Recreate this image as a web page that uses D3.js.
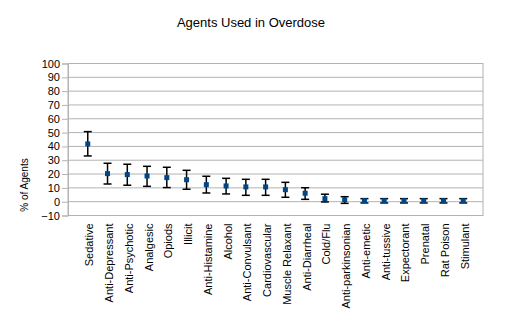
<!DOCTYPE html>
<html>
<head>
<meta charset="utf-8">
<script src="https://cdn.jsdelivr.net/npm/d3@7"></script>
<style>
  body { margin: 0; background: #fff; }
  text { font-family: "Liberation Sans", Arial, sans-serif; }
</style>
</head>
<body>
<div id="vis"></div>
<script>
// data
var agents = ['Sedative', 'Anti-Depressant', 'Anti-Psychotic', 'Analgesic', 'Opiods', 'Illicit',
    'Anti-Histamine', 'Alcohol', 'Anti-Convulsant', 'Cardiovascular', 'Muscle Relaxant',
    'Anti-Diarrheal', 'Cold/Flu', 'Anti-parkinsonian', 'Anti-emetic', 'Anti-tussive',
    'Expectorant', 'Prenatal', 'Rat Poison', 'Stimulant'];
var pct = [41.8, 20.3, 19.6, 18.6, 17.4, 15.9, 12.3, 11.4, 10.7, 10.7, 8.7, 6.1, 2.2, 1.4, 0.7, 0.7, 0.7, 0.7, 0.7, 0.7];
var errHigh = [50.7, 27.8, 27.1, 25.6, 24.9, 22.7, 18.4, 16.9, 16.2, 16.2, 14.0, 10.1, 5.4, 3.6, 2.2, 2.2, 2.2, 2.2, 2.2, 2.2];
var errLow = [33.1, 12.8, 11.9, 11.1, 10.2, 9.0, 6.3, 5.6, 4.6, 4.6, 3.2, 1.7, -0.2, -1.2, -0.9, -0.9, -0.9, -0.9, -0.9, -0.9];
var yTicks = [-10, 0, 10, 20, 30, 40, 50, 60, 70, 80, 90, 100];

var margin = { left: 68, top: 63.5, right: 22, bottom: 120.5 };
var W = 505, H = 336;
var width = W - margin.left - margin.right;
var height = H - margin.top - margin.bottom;

var svg = d3.select('#vis').append('svg')
    .attr('width', W)
    .attr('height', H);

var g = svg.append('g')
    .attr('transform', 'translate(' + margin.left + ',' + margin.top + ')');

// points sit one step in from each side of the plot
var xScale = d3.scalePoint().domain(agents).range([0, width]).padding(1);
var yScale = d3.scaleLinear().domain([-10, 100]).range([height, 0]);

/* gridlines */
g.selectAll('.grid').data(yTicks).enter()
    .append('line')
    .attr('x1', 0).attr('x2', width)
    .attr('y1', function (d) { return yScale(d); })
    .attr('y2', function (d) { return yScale(d); })
    .attr('stroke', '#b3b3b3')
    .attr('stroke-width', 1);

/* plot border */
g.append('rect')
    .attr('width', width).attr('height', height)
    .attr('fill', 'none')
    .attr('stroke', '#b3b3b3');

/* y axis */
var yAxis = d3.axisLeft(yScale).tickValues(yTicks).tickSize(6).tickPadding(2);
var ya = g.append('g').call(yAxis);
ya.select('.domain').attr('stroke', '#b3b3b3');
ya.selectAll('.tick line').attr('stroke', '#b3b3b3');
ya.selectAll('.tick text').attr('font-size', 11).attr('fill', '#000')
    .style('font-family', '"Liberation Sans", Arial, sans-serif');

/* x axis labels */
var xAxis = d3.axisBottom(xScale).tickSize(0).tickPadding(0);
var xa = g.append('g').attr('transform', 'translate(0,' + height + ')').call(xAxis);
xa.select('.domain').remove();
xa.selectAll('.tick text')
    .attr('font-size', 11).attr('fill', '#000')
    .style('font-family', '"Liberation Sans", Arial, sans-serif')
    .attr('text-anchor', 'end')
    .attr('dy', null)
    .attr('transform', 'translate(5,8) rotate(-90)');

/* error bars */
var cx = function (d) { return xScale(d); };
var bars = g.selectAll('.err').data(agents).enter().append('g');
bars.append('line')
    .attr('x1', cx).attr('x2', cx)
    .attr('y1', function (d, i) { return yScale(errHigh[i]); })
    .attr('y2', function (d, i) { return yScale(errLow[i]); })
    .attr('stroke', '#000').attr('stroke-width', 1.5);
[errHigh, errLow].forEach(function (arr) {
    bars.append('line')
        .attr('x1', function (d) { return cx(d) - 4; })
        .attr('x2', function (d) { return cx(d) + 4; })
        .attr('y1', function (d, i) { return yScale(arr[i]); })
        .attr('y2', function (d, i) { return yScale(arr[i]); })
        .attr('stroke', '#000').attr('stroke-width', 1.5);
});

/* markers */
g.selectAll('.pt').data(agents).enter()
    .append('rect')
    .attr('x', function (d) { return cx(d) - 2.5; })
    .attr('y', function (d, i) { return yScale(pct[i]) - 2.5; })
    .attr('width', 5).attr('height', 5)
    .attr('fill', '#004586');

/* titles */
svg.append('text')
    .attr('x', 251).attr('y', 27)
    .attr('text-anchor', 'middle')
    .attr('font-size', 13)
    .text('Agents Used in Overdose');

svg.append('text')
    .attr('transform', 'translate(28,185) rotate(-90)')
    .attr('text-anchor', 'middle')
    .attr('font-size', 10)
    .text('% of Agents');
</script>
</body>
</html>
